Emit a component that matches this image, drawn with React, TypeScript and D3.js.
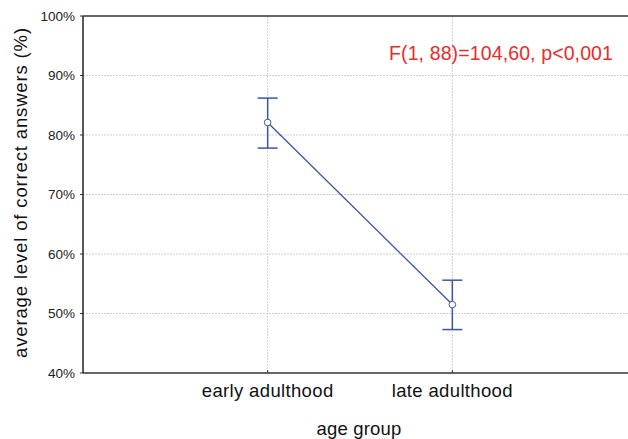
import React from "react";
import * as d3 from "d3";

const categories = ["early adulthood", "late adulthood"];
const means = [82.1, 51.5];
const upper = [86.2, 55.6];
const lower = [77.8, 47.3];
const yTicks = [40, 50, 60, 70, 80, 90, 100];
const annotation = "F(1, 88)=104,60, p<0,001";

export default function App() {
  const W = 628, H = 439;
  const left = 83, top = 16, bottom = 373;
  const x = d3.scaleLinear().domain([0, 3]).range([left, 637]);
  const y = d3.scaleLinear().domain([40, 100]).range([bottom, top]);
  const line = d3.line<number>().x((_, i) => x(i + 1)).y((d) => y(d));
  const font = "Arial, 'Liberation Sans', Helvetica, sans-serif";
  const blue = "#3a55a6";
  return (
    <svg width={W} height={H} style={{ position: "absolute", left: 0, top: 0 }} fontFamily={font}>
      <rect width={W} height={H} fill="#fff" />
      {yTicks.slice(1, -1).map((t) => (
        <line key={"h" + t} x1={left} x2={W} y1={y(t)} y2={y(t)} stroke="#cfcfcf" strokeWidth={1} strokeDasharray="2,1" />
      ))}
      {categories.map((c, i) => (
        <line key={"v" + c} x1={x(i + 1)} x2={x(i + 1)} y1={top} y2={bottom} stroke="#cfcfcf" strokeWidth={1} strokeDasharray="2,1" />
      ))}
      <line x1={left} x2={W} y1={top} y2={top} stroke="#333" strokeWidth={1.5} />
      <line x1={left} x2={W} y1={bottom} y2={bottom} stroke="#333" strokeWidth={1.5} />
      <line x1={left} x2={left} y1={top} y2={bottom} stroke="#222" strokeWidth={1.5} />
      {yTicks.map((t) => (
        <g key={"t" + t}>
          <line x1={left - 3} x2={left} y1={y(t)} y2={y(t)} stroke="#333" strokeWidth={1} />
          <text x={75} y={y(t) + 4.5} textAnchor="end" fontSize={13.5} fill="#222">{t}%</text>
        </g>
      ))}
      {categories.map((c, i) => (
        <g key={"c" + c}>
          <line x1={x(i + 1)} x2={x(i + 1)} y1={bottom - 3} y2={bottom} stroke="#333" strokeWidth={1} />
          <text x={x(i + 1)} y={397} textAnchor="middle" fontSize={18.5} letterSpacing={0.35} fill="#111">{c}</text>
        </g>
      ))}
      <text x={359} y={435} textAnchor="middle" fontSize={18.5} letterSpacing={0.2} fill="#111">age group</text>
      <text transform={`translate(27,${192.5}) rotate(-90)`} textAnchor="middle" fontSize={18.5} letterSpacing={0.85} fill="#111">
        average level of correct answers (%)
      </text>
      <text x={389} y={60} fontSize={19.5} letterSpacing={0.12} fill="#ee2a2a">{annotation}</text>
      {means.map((m, i) => (
        <g key={"e" + i} stroke={blue} strokeWidth={1.5}>
          <line x1={x(i + 1)} x2={x(i + 1)} y1={y(upper[i])} y2={y(lower[i])} />
          <line x1={x(i + 1) - 10} x2={x(i + 1) + 10} y1={y(upper[i])} y2={y(upper[i])} />
          <line x1={x(i + 1) - 10} x2={x(i + 1) + 10} y1={y(lower[i])} y2={y(lower[i])} />
        </g>
      ))}
      <path d={line(means) || ""} fill="none" stroke={blue} strokeWidth={1.3} />
      {means.map((m, i) => (
        <circle key={"p" + i} cx={x(i + 1)} cy={y(m)} r={3.3} fill="#fff" stroke={blue} strokeWidth={1} />
      ))}
    </svg>
  );
}
